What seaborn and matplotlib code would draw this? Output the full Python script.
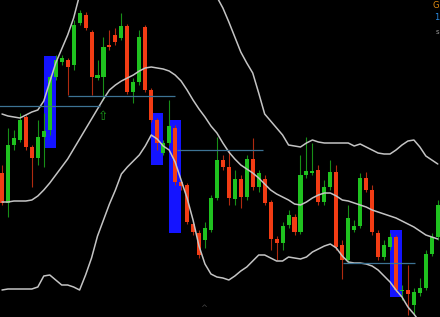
import numpy as np
import pandas as pd
import matplotlib
matplotlib.use("Agg")
import matplotlib.pyplot as plt
import seaborn as sns

# ---- candle data (price units) ----
opens = [227,197,255,260,283,253,242,263,270,323,338,340,335,377,385,368,322,323,355,365,
         362,374,308,318,373,310,280,247,257,272,218,215,176,167,160,170,202,240,233,201,
         221,203,241,213,221,198,161,157,175,183,168,225,227,230,198,213,228,155,140,170,
         174,222,210,167,143,153,163,109,110,95,107,112,146,163]
closes = [197,255,262,280,253,242,263,269,323,340,342,333,375,387,372,323,325,353,353,358,
          374,308,318,363,310,280,257,257,274,218,214,178,168,145,172,202,240,233,202,221,
          203,241,213,227,197,161,157,174,185,168,225,229,229,198,213,228,153,140,182,174,
          222,210,168,143,155,163,110,110,106,108,112,146,163,195]
highs = [235,272,270,287,285,255,280,287,325,345,345,342,380,390,388,370,340,363,370,372,
         387,376,322,370,375,312,282,260,300,275,220,217,178,170,178,205,263,245,250,230,
         225,245,262,230,225,200,164,178,190,186,245,263,257,235,220,240,235,160,195,180,
         227,228,215,170,160,167,165,115,135,112,122,150,167,200]
lows = [195,183,250,258,250,213,235,233,265,320,335,305,330,375,370,305,320,300,350,355,
        360,306,297,315,308,278,250,245,255,215,210,176,165,142,152,168,200,230,195,195,
        192,200,210,208,195,150,140,150,172,165,166,222,225,195,195,210,150,121,138,168,
        172,208,165,140,140,150,108,100,85,85,104,110,144,160]

# ---- Bollinger bands (price units) ----
upper = [286,284,283,282,285,288,290,299,318,337,351,365,382,405,425,440,450,460,465,470,
         472,475,478,478,478,475,470,465,460,455,450,445,440,430,420,410,403,392,378,363,
         348,337,327,307,286,279,272,265,255,254,253,257,260,258,257,257,257,257,257,254,
         256,253,250,247,246,246,250,255,259,260,253,244,240,236]
middle = [198,198,199,199,199,200,204,210,217,225,233,241,251,261,271,281,291,301,310,315,
          319,322,325,329,332,333,332,331,329,325,319,310,300,291,283,274,267,257,248,241,
          235,231,227,222,216,210,206,203,200,196,195,198,202,205,207,207,204,200,199,197,
          195,193,190,188,186,184,182,179,176,173,169,165,163,161]
lower = [110,111,111,111,111,111,113,124,125,120,115,115,113,110,125,142,164,180,196,210,
         226,233,239,245,254,265,261,254,250,238,220,202,180,154,136,126,123,122,120,124,
         129,133,139,145,145,142,139,139,143,142,141,143,148,151,154,156,152,144,138,137,
         137,136,134,130,124,118,110,103,93,86,78,70,65,60]

# ---- highlight boxes ----
box_center = [8, 26, 29, 66]
box_low = [252, 235, 167, 103]
box_high = [344, 287, 280, 170]

# ---- horizontal levels ----
level_price = [294, 304, 250, 137]
level_start = [-1.0, 11.0, 29.3, 57.1]
level_end = [16.4, 29.0, 43.7, 69.2]

GREEN = "#1fc21f"
RED = "#f23c14"
BLUE = "#1414ff"
BAND = "#c4c4c4"
LEVEL = "#3d7394"

sns.set_theme(style="dark", rc={"axes.facecolor": "black", "figure.facecolor": "black",
                                "axes.grid": False})
plt.rcParams["font.family"] = ["DejaVu Sans"]

fig = plt.figure(figsize=(4.4, 3.17), dpi=100)
ax = fig.add_axes([0, 0, 1, 1])
ax.set_facecolor("black")

n = len(opens)
idx = np.arange(n)
o = np.array(opens, float)
c = np.array(closes, float)
h = np.array(highs, float)
l = np.array(lows, float)
up = c >= o
cols = np.where(up, GREEN, RED)

# boxes
bc = np.array(box_center, float)
ax.bar(bc, np.array(box_high) - np.array(box_low), bottom=box_low, width=1.95,
       color=BLUE, linewidth=0, zorder=1)

# wicks
wick_cols = np.where(up, "#178f17", "#b02a10")
ax.vlines(idx, l, h, colors=wick_cols, linewidth=0.8, zorder=2)
# bodies
body_h = np.maximum(np.abs(c - o), 1.2)
ax.bar(idx, body_h, bottom=np.minimum(o, c), width=0.68, color=cols, linewidth=0, zorder=3)

# bands via seaborn
bands = pd.DataFrame({
    "idx": np.concatenate([idx, idx, idx]),
    "value": np.concatenate([upper, middle, lower]),
    "band": ["upper"] * n + ["middle"] * n + ["lower"] * n,
})
sns.lineplot(data=bands, x="idx", y="value", units="band", estimator=None,
             color=BAND, linewidth=1.1, ax=ax, zorder=4, legend=False)

# levels
ax.hlines(level_price, level_start, level_end, colors=LEVEL, linewidth=0.9, zorder=5)

# small marker arrow
ax.text(16.9, 283, "\u21e7", color="#1a9a1a", fontsize=9, ha="center", va="center", zorder=6)

# corner labels
fig.text(0.998, 0.997, "G", color="#e08a10", fontsize=6, ha="right", va="top")
fig.text(0.998, 0.945, "1", color="#2a8ae0", fontsize=6, ha="right", va="center")
fig.text(0.998, 0.9, "s", color="#9a9a9a", fontsize=5, ha="right", va="center")
fig.text(0.462, 0.012, "^", color="#444444", fontsize=6, ha="center", va="bottom")

ax.set_xlim(-0.335, 73.37)
ax.set_ylim(83, 400)
ax.set_xlabel("")
ax.set_ylabel("")
ax.set_xticks([])
ax.set_yticks([])
for s in ax.spines.values():
    s.set_visible(False)

fig.savefig("out.png", dpi=100, facecolor="black")
